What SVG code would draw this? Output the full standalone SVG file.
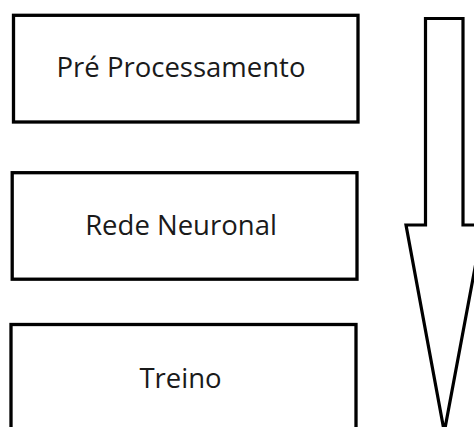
<svg xmlns="http://www.w3.org/2000/svg" width="474" height="427" viewBox="0 0 474 427">
<style>
.box{fill:#fff;stroke:#000;stroke-width:3.3}
.lbl{font-family:"Open Sans","Noto Sans","DejaVu Sans",sans-serif;font-size:27.5px;fill:#1a1a1a;text-anchor:middle}
.arrow{fill:#fff;stroke:#000;stroke-width:3.2;stroke-linejoin:miter}
</style>
<rect width="474" height="427" fill="#fff"/>
<g id="node-preprocessamento">
<rect class="box" x="13.5" y="15.3" width="344.5" height="106.7"/>
<text class="lbl" x="181" y="76.5">Pré Processamento</text>
</g>
<g id="node-rede-neuronal">
<rect class="box" x="12.2" y="172.7" width="344.8" height="106.5"/>
<text class="lbl" x="181" y="235">Rede Neuronal</text>
</g>
<g id="node-treino">
<rect class="box" x="11" y="324.5" width="345" height="108"/>
<text class="lbl" x="180.5" y="388">Treino</text>
</g>
<g id="connectors">
<polygon class="arrow" points="425.5,18.5 463,18.5 463,225 483,225 444.3,432 406,225 425.5,225"/>
</g>
</svg>
